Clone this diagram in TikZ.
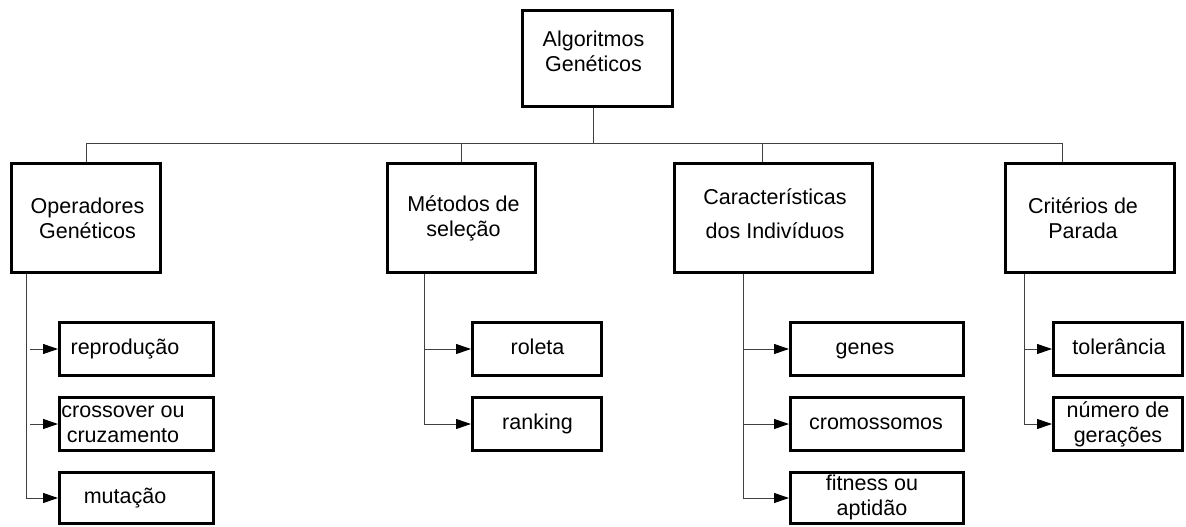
\documentclass[tikz,border=0pt]{standalone}
\usepackage{fontspec}
\setmainfont{Liberation Sans}
\usetikzlibrary{arrows.meta}

\begin{document}
\begin{tikzpicture}[x=1pt, y=-1pt,
  box/.style={draw=black, line width=3pt, rectangle, inner sep=0pt},
  lbl/.style={align=center, inner sep=0pt, font=\fontsize{21.5}{25}\selectfont},
  one/.style={lbl, text height=15.7pt, text depth=4.5pt},
  link/.style={draw=black!75, line width=1pt},
  feed/.style={link, -{Triangle[length=15pt, width=10pt, black]}},
  gap/.style={shorten <=4pt}
]
\useasboundingbox (0,0) rectangle (1186,527);

% root
\node[box, minimum width=150pt, minimum height=95pt] (ag) at (597,58.5) {};
\node[lbl] (ag-t) at (593.5,51) {Algoritmos\\Genéticos};

% second level
\node[box, minimum width=149pt, minimum height=109pt] (opg) at (86,218) {};
\node[box, minimum width=148pt, minimum height=109pt] (met) at (461.5,218) {};
\node[box, minimum width=198pt, minimum height=109pt] (car) at (773.5,218) {};
\node[box, minimum width=169pt, minimum height=109pt] (crit) at (1090,218) {};

\node[lbl] (opg-t) at (87.5,218.5) {Operadores\\Genéticos};
\node[lbl] (met-t) at (463.5,218.5) {Métodos de\\seleção};
\node[lbl, font=\fontsize{21.5}{34}\selectfont] (car-t) at (775,214) {Características\\dos Indivíduos};
\node[lbl] (crit-t) at (1083,218.5) {Critérios de\\Parada};

% third level: genetic operators
\node[box, minimum width=154pt, minimum height=53pt] (rep) at (136.5,349) {};
\node[box, minimum width=154pt, minimum height=53pt] (cro) at (136.5,424) {};
\node[box, minimum width=154pt, minimum height=51pt] (mut) at (136.5,498) {};
\node[one] (rep-t) at (125,349) {reprodução};
\node[lbl] (cro-t) at (123,424) {crossover ou\\cruzamento};
\node[one] (mut-t) at (125,498) {mutação};

% third level: selection methods
\node[box, minimum width=129pt, minimum height=53pt] (rol) at (537,349) {};
\node[box, minimum width=129pt, minimum height=53pt] (rnk) at (537,424) {};
\node[one] (rol-t) at (537.5,349) {roleta};
\node[one] (rnk-t) at (537.5,424) {ranking};

% third level: individuals
\node[box, minimum width=173pt, minimum height=53pt] (gen) at (877,349) {};
\node[box, minimum width=173pt, minimum height=53pt] (crm) at (877,424) {};
\node[box, minimum width=173pt, minimum height=51pt] (fit) at (877,498) {};
\node[one] (gen-t) at (865,349) {genes};
\node[one] (crm-t) at (876,424) {cromossomos};
\node[lbl] (fit-t) at (872,497.5) {fitness ou\\aptidão};

% third level: stopping criteria
\node[box, minimum width=129pt, minimum height=53pt] (tol) at (1118,349) {};
\node[box, minimum width=129pt, minimum height=53pt] (num) at (1118,424) {};
\node[one] (tol-t) at (1119,349) {tolerância};
\node[lbl] (num-t) at (1118,424.5) {número de\\gerações};

% bus and drop positions
\coordinate (bus) at (0,143);
\coordinate (dag) at (593,0);
\coordinate (dcar) at (762,0);
\coordinate (dcrit) at (1062,0);

\draw[link] (ag.south -| dag) -- (bus -| dag);
\draw[link] (opg.north) -- (bus -| opg.north) -- (bus -| dcrit) -- (crit.north -| dcrit);
\draw[link] (bus -| met.north) -- (met.north);
\draw[link] (bus -| dcar) -- (car.north -| dcar);

% trunks
\coordinate (t1) at (26,0);
\coordinate (t2) at (424,0);
\coordinate (t3) at (743,0);
\coordinate (t4) at (1024,0);

\draw[feed] (opg.south -| t1) |- (mut.west);
\draw[feed, gap] (rep.west -| t1) -- (rep.west);
\draw[feed, gap] (cro.west -| t1) -- (cro.west);

\draw[feed] (met.south -| t2) |- (rnk.west);
\draw[feed] (rol.west -| t2) -- (rol.west);

\draw[feed] (car.south -| t3) |- (fit.west);
\draw[feed] (gen.west -| t3) -- (gen.west);
\draw[feed] (crm.west -| t3) -- (crm.west);

\draw[feed] (crit.south -| t4) |- (num.west);
\draw[feed] (tol.west -| t4) -- (tol.west);
\end{tikzpicture}
\end{document}
